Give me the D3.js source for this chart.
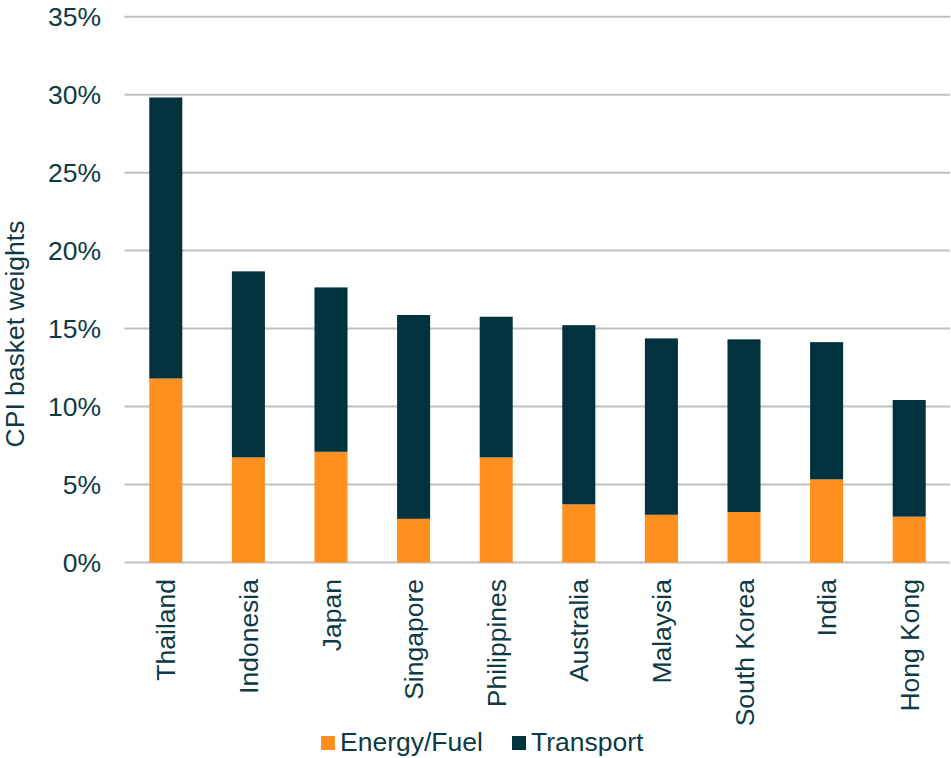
<!DOCTYPE html>
<html>
<head>
<meta charset="utf-8">
<script src="https://cdn.jsdelivr.net/npm/d3@7"></script>
<style>
  html, body { margin: 0; padding: 0; background: #fff; }
  svg { display: block; font-family: Arial, "Liberation Sans", sans-serif; }
</style>
</head>
<body>
<svg id="chart" width="951" height="758"></svg>
<script>
const categories = ["Thailand", "Indonesia", "Japan", "Singapore", "Philippines", "Australia", "Malaysia", "South Korea", "India", "Hong Kong"];
const energyFuel = [11.8, 6.74, 7.1, 2.8, 6.74, 3.73, 3.06, 3.24, 5.33, 2.94];
const transport = [18.02, 11.93, 10.54, 13.07, 9.02, 11.49, 11.31, 11.07, 8.8, 7.48];
const yTicks = [0, 5, 10, 15, 20, 25, 30, 35];
const seriesNames = ["Energy/Fuel", "Transport"];
const seriesColors = ["#FF8F1F", "#02323D"];
const textColor = "#0D3A44";
const fontSize = 26.5;

const svg = d3.select("#chart");
const x = d3.scaleBand().domain(categories).range([124.5, 950.5]).paddingInner(0.6).paddingOuter(0.3);
const y = d3.scaleLinear().domain([0, 35]).range([562.5, 16.7]);

// gridlines
svg.append("g").selectAll("line").data(yTicks).join("line")
  .attr("x1", 124.5).attr("x2", 950)
  .attr("y1", d => y(d)).attr("y2", d => y(d))
  .attr("stroke", "#BFBFBF").attr("stroke-width", 2);

// y tick labels
svg.append("g").selectAll("text").data(yTicks).join("text")
  .attr("x", 101).attr("y", d => y(d)).attr("dy", "0.36em")
  .attr("text-anchor", "end").attr("font-size", fontSize).attr("fill", textColor)
  .text(d => d + "%");

// stacked bars
const rows = categories.map((c, i) => ({ cat: c, "Energy/Fuel": energyFuel[i], "Transport": transport[i] }));
const stack = d3.stack().keys(seriesNames)(rows);
svg.append("g").selectAll("g").data(stack).join("g")
  .attr("fill", (d, i) => seriesColors[i])
  .selectAll("rect").data(d => d).join("rect")
  .attr("x", d => x(d.data.cat))
  .attr("width", x.bandwidth())
  .attr("y", d => y(d[1]))
  .attr("height", d => y(d[0]) - y(d[1]));

// x labels
svg.append("g").selectAll("text").data(categories).join("text")
  .attr("transform", d => `translate(${x(d) + x.bandwidth() / 2},579) rotate(-90)`)
  .attr("dy", "0.36em")
  .attr("text-anchor", "end").attr("font-size", fontSize).attr("fill", textColor)
  .text(d => d);

// y axis title
svg.append("text")
  .attr("transform", "translate(24,334) rotate(-90)")
  .attr("text-anchor", "middle").attr("font-size", fontSize).attr("fill", textColor)
  .text("CPI basket weights");

// legend
const legendX = [321, 512];
const lg = svg.append("g").selectAll("g").data(seriesNames).join("g")
  .attr("transform", (d, i) => `translate(${legendX[i]},736)`);
lg.append("rect").attr("width", 14).attr("height", 14).attr("fill", (d, i) => seriesColors[i]);
lg.append("text").attr("x", 19).attr("y", 14.7).attr("font-size", fontSize).attr("fill", textColor).text(d => d);
</script>
</body>
</html>
